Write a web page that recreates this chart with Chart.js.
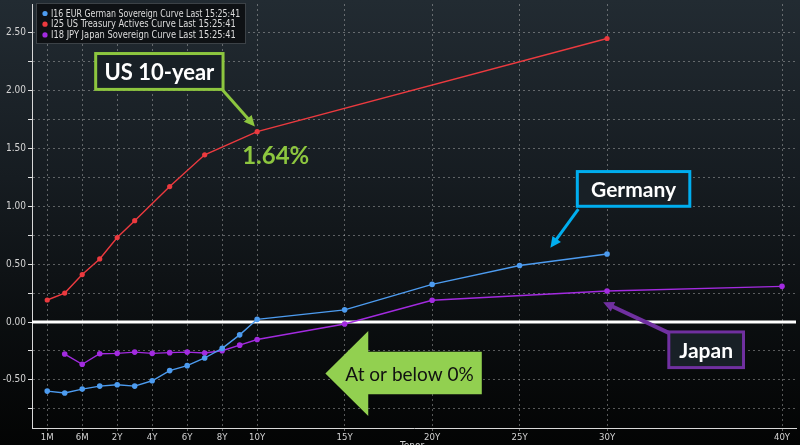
<!DOCTYPE html>
<html>
<head>
<meta charset="utf-8">
<script src="https://cdn.jsdelivr.net/npm/chart.js@4.4.1/dist/chart.umd.min.js"></script>
<style>
  html, body { margin: 0; padding: 0; background: #000; }
  #wrap { width: 800px; height: 445px; }
</style>
</head>
<body>
<div id="wrap"><canvas id="curves" width="800" height="445"></canvas></div>
<script>
// x axis tick labels (tenors)
const tickTenors = ["1M", "6M", "2Y", "4Y", "6Y", "8Y", "10Y", "15Y", "20Y", "25Y", "30Y", "40Y"];
// y axis grid values (labels only on the half points)
const yTickValues = [-0.75, -0.5, -0.25, 0, 0.25, 0.5, 0.75, 1, 1.25, 1.5, 1.75, 2, 2.25, 2.5];

const deLabel = "I16 EUR German Sovereign Curve Last 15:25:41";
const deTenors = ["1M", "3M", "6M", "1Y", "2Y", "3Y", "4Y", "5Y", "6Y", "7Y", "8Y", "9Y", "10Y", "15Y", "20Y", "25Y", "30Y"];
const deYields = [-0.597, -0.614, -0.58, -0.554, -0.542, -0.554, -0.508, -0.42, -0.377, -0.311, -0.228, -0.111, 0.023, 0.105, 0.325, 0.488, 0.588];

const usLabel = "I25 US Treasury Actives Curve Last 15:25:41";
const usTenors = ["1M", "3M", "6M", "1Y", "2Y", "3Y", "5Y", "7Y", "10Y", "30Y"];
const usYields = [0.19, 0.25, 0.41, 0.545, 0.73, 0.876, 1.17, 1.445, 1.645, 2.45];

const jpLabel = "I18 JPY Japan Sovereign Curve Last 15:25:41";
const jpTenors = ["3M", "6M", "1Y", "2Y", "3Y", "4Y", "5Y", "6Y", "7Y", "8Y", "9Y", "10Y", "15Y", "20Y", "30Y", "40Y"];
const jpYields = [-0.277, -0.365, -0.274, -0.271, -0.26, -0.271, -0.265, -0.26, -0.268, -0.248, -0.2, -0.151, -0.017, 0.188, 0.268, 0.308];

// Bloomberg stretches the money-market end: 1M, 3M, 6M get one "year" slot each
function tenorPos(t) {
  const n = parseFloat(t);
  if (t.endsWith("M")) return { 1: -2, 3: -1, 6: 0 }[n];
  return n;
}

const toPoints = (tenors, ys) => tenors.map((t, i) => ({ x: tenorPos(t), y: ys[i] }));

const NARROW = '"Liberation Sans Narrow", "DejaVu Sans Condensed", "Liberation Sans", sans-serif';

// callouts, placed in data units (tenor position / yield)
const callouts = [
  { text: "US 10-year", color: "#8dc63f", x0: 0.77, x1: 8.05, y0: 2.32, y1: 2.01, from: [8.0, 2.01], to: [9.87, 1.69], size: 22 },
  { text: "Germany", color: "#00aeef", x0: 28.3, x1: 34.73, y0: 1.30, y1: 1.0, from: [28.36, 0.976], to: [26.76, 0.642], size: 21 },
  { text: "Japan", color: "#7030a0", x0: 33.53, x1: 37.8, y0: -0.086, y1: -0.394, from: [33.53, -0.094], to: [29.78, 0.171], size: 21 },
];
const bigArrow = [[13.9, -0.445], [16.35, -0.077], [16.35, -0.257], [22.84, -0.257], [22.84, -0.625], [16.35, -0.625], [16.35, -0.813]];

function drawArrow(ctx, x1, y1, x2, y2, color, width, head) {
  const a = Math.atan2(y2 - y1, x2 - x1);
  ctx.save();
  ctx.strokeStyle = color;
  ctx.fillStyle = color;
  ctx.lineWidth = width;
  ctx.beginPath();
  ctx.moveTo(x1, y1);
  ctx.lineTo(x2 - Math.cos(a) * head * 0.8, y2 - Math.sin(a) * head * 0.8);
  ctx.stroke();
  ctx.beginPath();
  ctx.moveTo(x2, y2);
  ctx.lineTo(x2 - head * Math.cos(a - 0.45), y2 - head * Math.sin(a - 0.45));
  ctx.lineTo(x2 - head * Math.cos(a + 0.45), y2 - head * Math.sin(a + 0.45));
  ctx.closePath();
  ctx.fill();
  ctx.restore();
}

// squeeze text to a given width (the terminal font is a narrow one)
function narrowText(ctx, str, x, y, maxW) {
  const w = ctx.measureText(str).width;
  const k = Math.min(1, maxW / w);
  ctx.save();
  ctx.translate(x, y);
  ctx.scale(k, 1);
  ctx.fillText(str, 0, 0);
  ctx.restore();
}

const backdrop = {
  id: "backdrop",
  beforeDraw(chart) {
    const { ctx, width, height } = chart;
    const g = ctx.createLinearGradient(0, 0, 0, height);
    g.addColorStop(0, "#222b32");
    g.addColorStop(0.4, "#161c21");
    g.addColorStop(0.72, "#0b0e10");
    g.addColorStop(1, "#030404");
    ctx.save();
    ctx.fillStyle = g;
    ctx.fillRect(0, 0, width, height);
    ctx.restore();
  },
  beforeDatasetsDraw(chart) {
    // solid white zero line
    const { ctx, chartArea, scales } = chart;
    const y0 = scales.y.getPixelForValue(0);
    ctx.save();
    ctx.strokeStyle = "#ffffff";
    ctx.lineWidth = 3;
    ctx.beginPath();
    ctx.moveTo(chartArea.left, y0);
    ctx.lineTo(chartArea.right, y0);
    ctx.stroke();
    ctx.restore();
  },
};

const overlays = {
  id: "overlays",
  afterDraw(chart) {
    const { ctx, scales } = chart;
    const X = (v) => scales.x.getPixelForValue(v);
    const Y = (v) => scales.y.getPixelForValue(v);

    // legend box
    ctx.save();
    ctx.fillStyle = "#0e1114";
    ctx.strokeStyle = "#3c4247";
    ctx.lineWidth = 1;
    ctx.fillRect(36.5, 3.5, 209, 40);
    ctx.strokeRect(36.5, 3.5, 209, 40);
    ctx.font = "10.5px " + NARROW;
    ctx.textBaseline = "middle";
    chart.data.datasets.forEach((ds, i) => {
      const ly = 13.5 + i * 10.7;
      ctx.fillStyle = ds.borderColor;
      ctx.beginPath();
      ctx.arc(45, ly, 2.6, 0, Math.PI * 2);
      ctx.fill();
      ctx.fillStyle = "#dcdcdc";
      narrowText(ctx, ds.label, 51, ly + 0.5, ds.label.length * 4.3);
    });
    ctx.restore();

    // callout boxes + arrows
    callouts.forEach((c) => {
      const l = X(c.x0), r = X(c.x1), t = Y(c.y0), b = Y(c.y1);
      ctx.save();
      ctx.fillStyle = "#182026";
      ctx.fillRect(l, t, r - l, b - t);
      ctx.strokeStyle = c.color;
      ctx.lineWidth = 3;
      ctx.strokeRect(l, t, r - l, b - t);
      ctx.fillStyle = "#ffffff";
      ctx.font = "bold " + c.size + "px Lato, 'Open Sans', sans-serif";
      ctx.textAlign = "center";
      ctx.textBaseline = "middle";
      ctx.fillText(c.text, (l + r) / 2, (t + b) / 2 + 1);
      ctx.restore();
      drawArrow(ctx, X(c.from[0]), Y(c.from[1]), X(c.to[0]), Y(c.to[1]), c.color, c.color === "#7030a0" ? 4 : 3, 12);
    });

    // 10y yield label
    ctx.save();
    ctx.fillStyle = "#8dc63f";
    ctx.font = "bold 24px Lato, 'Open Sans', sans-serif";
    ctx.textAlign = "center";
    ctx.textBaseline = "middle";
    ctx.fillText("1.64%", X(11.06), Y(1.43));
    ctx.restore();

    // big green arrow
    ctx.save();
    ctx.fillStyle = "#92d050";
    ctx.beginPath();
    bigArrow.forEach(([px, py], i) => (i ? ctx.lineTo(X(px), Y(py)) : ctx.moveTo(X(px), Y(py))));
    ctx.closePath();
    ctx.fill();
    ctx.fillStyle = "#111111";
    ctx.font = "19px Lato, 'Open Sans', sans-serif";
    ctx.textAlign = "center";
    ctx.textBaseline = "middle";
    ctx.fillText("At or below 0%", X(18.71), Y(-0.445) + 1);
    ctx.restore();

    // axis title, mostly cut off at the bottom edge
    ctx.save();
    ctx.fillStyle = "#d0d0d0";
    ctx.font = "10px " + NARROW;
    ctx.textBaseline = "top";
    ctx.fillText("Tenor", 400, 441);
    ctx.restore();
  },
};

const line = (label, color, pts, r) => ({
  label,
  data: pts,
  borderColor: color,
  backgroundColor: color,
  borderWidth: 1.4,
  pointRadius: r,
  pointBorderWidth: 0,
  pointBackgroundColor: color,
  tension: 0,
});

new Chart(document.getElementById("curves"), {
  type: "line",
  data: {
    datasets: [
      line(deLabel, "#4d9cf0", toPoints(deTenors, deYields), 2.8),
      line(usLabel, "#ec3a3f", toPoints(usTenors, usYields), 2.6),
      line(jpLabel, "#a32be0", toPoints(jpTenors, jpYields), 2.8),
    ],
  },
  options: {
    responsive: false,
    animation: false,
    layout: { padding: 0 },
    plugins: { legend: { display: false }, tooltip: { enabled: false } },
    scales: {
      x: {
        type: "linear",
        min: -2.87,
        max: 40.8,
        afterBuildTicks: (s) => { s.ticks = tickTenors.map((t) => ({ value: tenorPos(t) })); },
        afterFit: (s) => { s.height = 17; s.paddingLeft = 0; s.paddingRight = 0; },
        ticks: {
          autoSkip: false,
          maxRotation: 0,
          padding: 1,
          color: "#d4d4d4",
          font: { family: NARROW, size: 9.5 },
          callback: (v, i) => tickTenors[i],
        },
        grid: { color: "rgba(200,200,200,0.42)", lineWidth: 1, tickLength: 3, tickColor: "rgba(200,200,200,0.5)" },
        border: { color: "#d8d8d8", width: 1, dash: [2, 3] },
      },
      y: {
        min: -0.916,
        max: 2.748,
        afterBuildTicks: (s) => { s.ticks = yTickValues.map((v) => ({ value: v })); },
        afterFit: (s) => { s.width = 32; s.paddingTop = 0; s.paddingBottom = 0; },
        ticks: {
          padding: 2,
          color: "#d4d4d4",
          font: { family: NARROW, size: 10 },
          callback: (v) => (Math.abs(v * 2 - Math.round(v * 2)) < 1e-6 ? v.toFixed(2) : ""),
        },
        grid: { color: "rgba(200,200,200,0.42)", lineWidth: 1, tickLength: 4, tickColor: "#e0e0e0" },
        border: { color: "#d8d8d8", width: 1, dash: [2, 3] },
      },
    },
  },
  plugins: [backdrop, overlays],
});
</script>
</body>
</html>
